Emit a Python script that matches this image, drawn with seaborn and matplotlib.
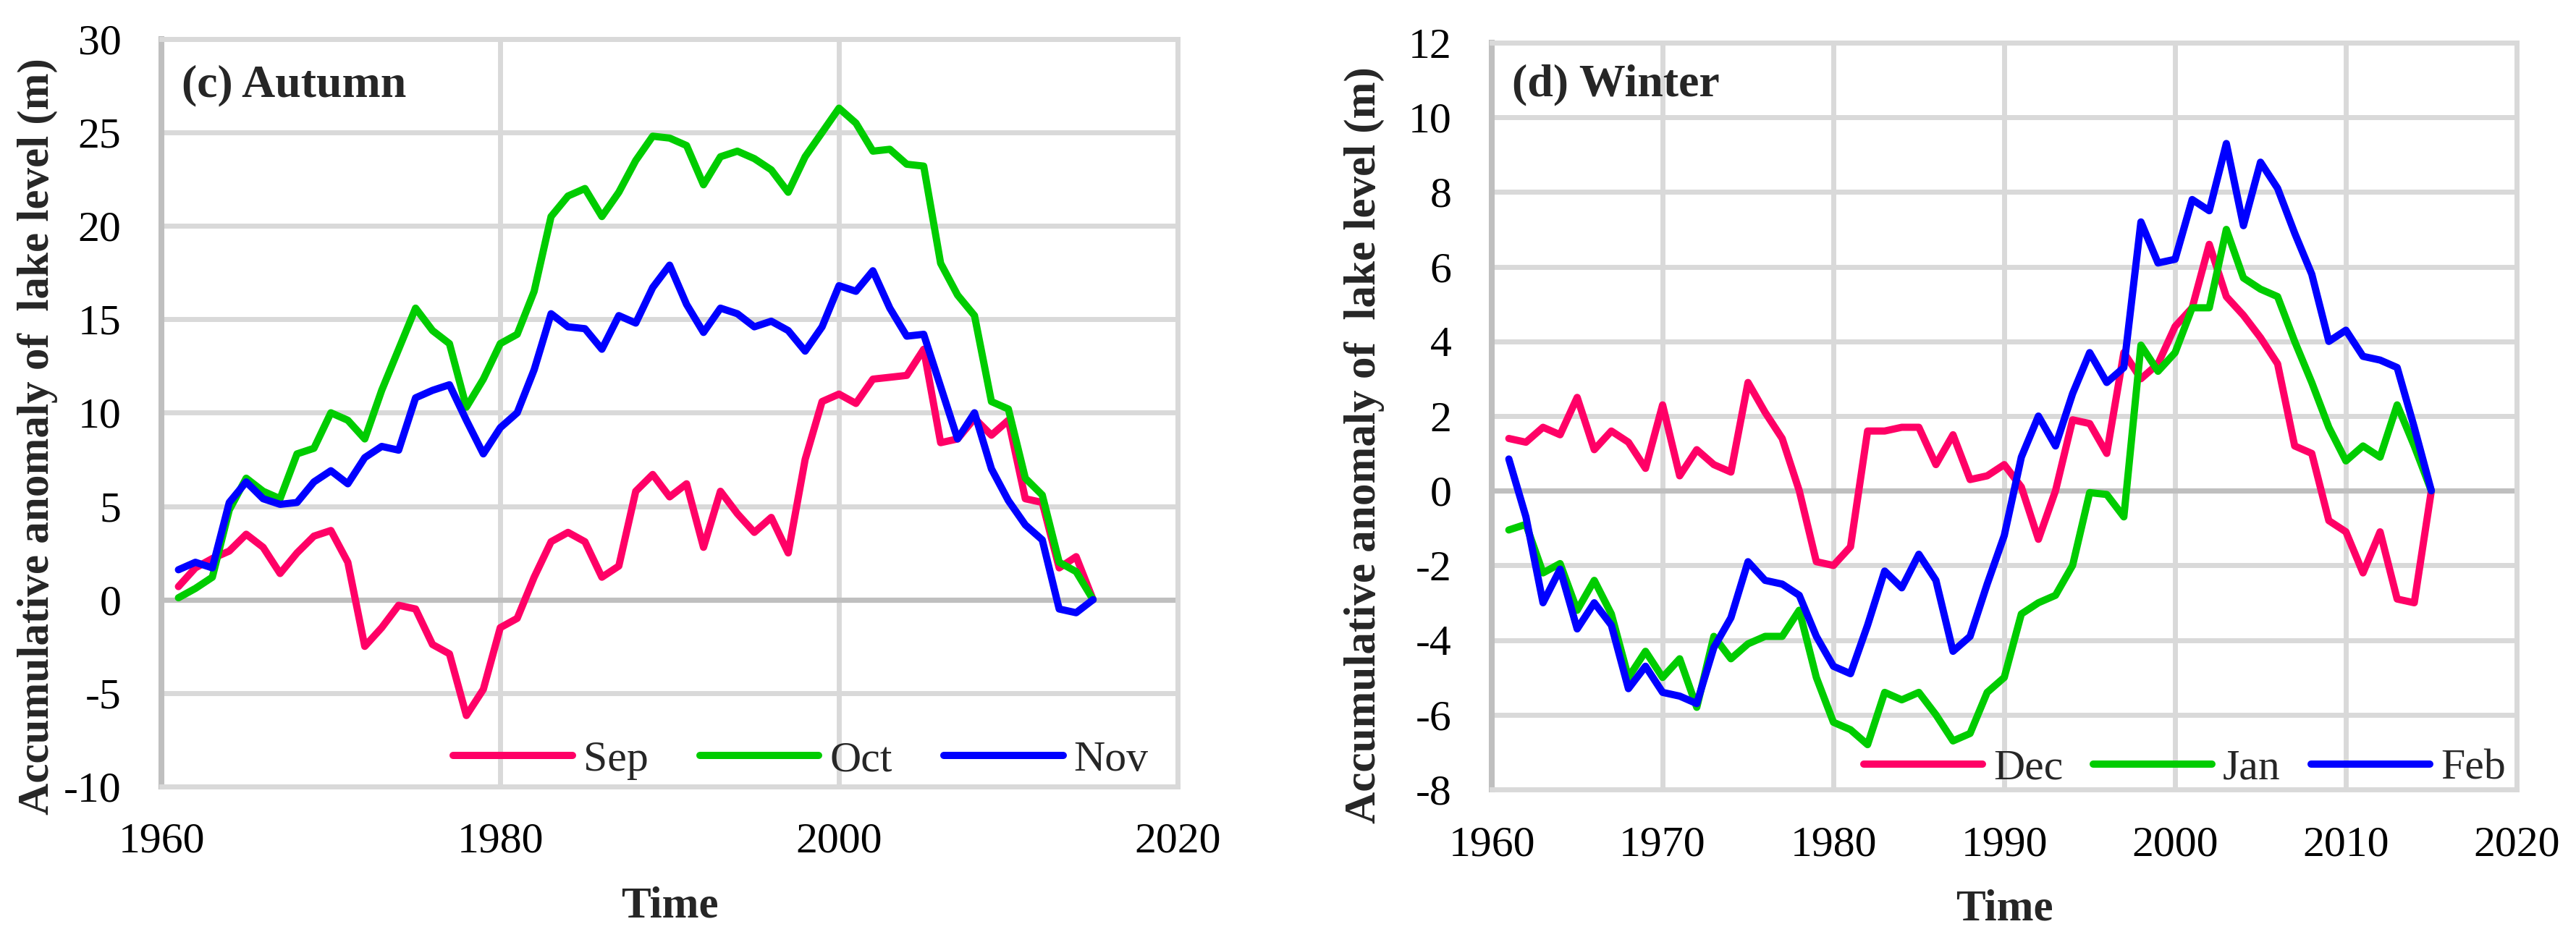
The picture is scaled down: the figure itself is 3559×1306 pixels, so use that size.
"""Accumulative anomaly of lake level, autumn and winter months"""
import numpy as np
import pandas as pd
import matplotlib
matplotlib.use('Agg')
import matplotlib.pyplot as plt
import seaborn as sns

years = list(range(1961, 2016))

# (c) Autumn
sep = [0.7, 1.7, 2.2, 2.6, 3.5, 2.8, 1.4, 2.5, 3.4, 3.7,
       2.0, -2.5, -1.5, -0.3, -0.5, -2.4, -2.9, -6.2, -4.8, -1.5,
       -1.0, 1.2, 3.1, 3.6, 3.1, 1.2, 1.8, 5.8, 6.7, 5.5,
       6.2, 2.8, 5.8, 4.6, 3.6, 4.4, 2.5, 7.5, 10.6, 11.0,
       10.5, 11.8, 11.9, 12.0, 13.4, 8.4, 8.6, 9.7, 8.8, 9.6,
       5.4, 5.2, 1.7, 2.3, 0.0]
oct_ = [0.1, 0.6, 1.2, 4.8, 6.5, 5.8, 5.4, 7.8, 8.1, 10.0,
        9.6, 8.6, 11.2, 13.4, 15.6, 14.4, 13.7, 10.3, 11.8, 13.7,
        14.2, 16.5, 20.5, 21.6, 22.0, 20.5, 21.8, 23.5, 24.8, 24.7,
        24.3, 22.2, 23.7, 24.0, 23.6, 23.0, 21.8, 23.7, 25.0, 26.3,
        25.5, 24.0, 24.1, 23.3, 23.2, 18.0, 16.3, 15.2, 10.6, 10.2,
        6.5, 5.6, 2.0, 1.5, 0.0]
nov = [1.6, 2.0, 1.7, 5.2, 6.3, 5.4, 5.1, 5.2, 6.3, 6.9,
       6.2, 7.6, 8.2, 8.0, 10.8, 11.2, 11.5, 9.6, 7.8, 9.2,
       10.0, 12.3, 15.3, 14.6, 14.5, 13.4, 15.2, 14.8, 16.7, 17.9,
       15.8, 14.3, 15.6, 15.3, 14.6, 14.9, 14.4, 13.3, 14.6, 16.8,
       16.5, 17.6, 15.6, 14.1, 14.2, 11.4, 8.6, 10.0, 7.0, 5.3,
       4.0, 3.2, -0.5, -0.7, 0.0]

# (d) Winter
dec = [1.4, 1.3, 1.7, 1.5, 2.5, 1.1, 1.6, 1.3, 0.6, 2.3,
       0.4, 1.1, 0.7, 0.5, 2.9, 2.1, 1.4, 0.0, -1.9, -2.0,
       -1.5, 1.6, 1.6, 1.7, 1.7, 0.7, 1.5, 0.3, 0.4, 0.7,
       0.1, -1.3, 0.0, 1.9, 1.8, 1.0, 3.7, 3.0, 3.4, 4.4,
       4.9, 6.6, 5.2, 4.7, 4.1, 3.4, 1.2, 1.0, -0.8, -1.1,
       -2.2, -1.1, -2.9, -3.0, 0.0]
jan = [-1.05, -0.9, -2.2, -1.95, -3.2, -2.4, -3.3, -5.0, -4.3, -5.0,
       -4.5, -5.8, -3.9, -4.5, -4.1, -3.9, -3.9, -3.2, -5.0, -6.2,
       -6.4, -6.8, -5.4, -5.6, -5.4, -6.0, -6.7, -6.5, -5.4, -5.0,
       -3.3, -3.0, -2.8, -2.0, -0.05, -0.1, -0.7, 3.9, 3.2, 3.7,
       4.9, 4.9, 7.0, 5.7, 5.4, 5.2, 4.0, 2.9, 1.7, 0.8,
       1.2, 0.9, 2.3, 1.2, 0.0]
feb = [0.85, -0.7, -3.0, -2.1, -3.7, -3.0, -3.6, -5.3, -4.7, -5.4,
       -5.5, -5.7, -4.2, -3.4, -1.9, -2.4, -2.5, -2.8, -3.9, -4.7,
       -4.9, -3.6, -2.15, -2.6, -1.7, -2.4, -4.3, -3.9, -2.5, -1.2,
       0.9, 2.0, 1.2, 2.6, 3.7, 2.9, 3.3, 7.2, 6.1, 6.2,
       7.8, 7.5, 9.3, 7.1, 8.8, 8.1, 6.9, 5.8, 4.0, 4.3,
       3.6, 3.5, 3.3, 1.7, 0.0]

autumn_months = ['Sep', 'Oct', 'Nov']
winter_months = ['Dec', 'Jan', 'Feb']
colors = ['#FF0066', '#00CC00', '#0000FF']


def long_table(months, series):
    frames = [pd.DataFrame({'Year': years, 'Anomaly': s, 'Month': m})
              for m, s in zip(months, series)]
    return pd.concat(frames, ignore_index=True)


df_aut = long_table(autumn_months, [sep, oct_, nov])
df_win = long_table(winter_months, [dec, jan, feb])

sns.set_theme(style='white')
plt.rcParams['font.family'] = ['Liberation Serif', 'DejaVu Serif']
plt.rcParams['axes.unicode_minus'] = False

FS = 21.5
GRID = '#d9d9d9'
AXIS = '#bfbfbf'

fig = plt.figure(figsize=(17.795, 6.53), dpi=200)
ax1 = fig.add_axes([0.0627, 0.1677, 0.3945, 0.7910])
ax2 = fig.add_axes([0.5791, 0.1646, 0.3979, 0.7902])

panels = [
    (ax1, df_aut, autumn_months, '(c) Autumn', (-10, 30), 5, 20,
     (0.971, 0.035), 1.2, 0.938, -0.1218, 0.468),
    (ax2, df_win, winter_months, '(d) Winter', (-8, 12), 2, 10,
     (0.989, 0.028), 0.7, 0.943, -0.1243, 0.461),
]

for (ax, df, months, title, ylim, ystep, xstep,
     leg_pos, colsp, title_y, ylab_x, ylab_y) in panels:
    sns.lineplot(data=df, x='Year', y='Anomaly', hue='Month',
                 hue_order=months, palette=dict(zip(months, colors)),
                 linewidth=3.6, ax=ax, zorder=3, legend=True,
                 solid_joinstyle='round', solid_capstyle='round')

    ax.set_xlim(1960, 2020)
    ax.set_ylim(*ylim)
    ax.set_xticks(np.arange(1960, 2021, xstep))
    ax.set_yticks(np.arange(ylim[0], ylim[1] + 1, ystep))
    ax.tick_params(axis='both', length=0, labelsize=FS, colors='black')
    ax.tick_params(axis='x', pad=18)
    ax.tick_params(axis='y', pad=20)

    ax.grid(True, color=GRID, linewidth=2.5, zorder=0)
    ax.set_axisbelow(True)
    ax.axhline(0, color=AXIS, linewidth=2.6, zorder=1.5)

    for side in ['top', 'right', 'bottom']:
        ax.spines[side].set_color(GRID)
        ax.spines[side].set_linewidth(2.5)
    ax.spines['left'].set_color(AXIS)
    ax.spines['left'].set_linewidth(2.9)

    ax.set_xlabel('Time', fontsize=FS + 0.5, fontweight='bold')
    ax.xaxis.set_label_coords(0.5, -0.1607)
    ax.xaxis.label.set_va('center')
    ax.set_ylabel('Accumulative anomaly of  lake level (m)',
                  fontsize=FS + 0.5, fontweight='bold')
    ax.yaxis.set_label_coords(ylab_x, ylab_y)
    ax.yaxis.label.set_va('center')

    ax.text(0.02, title_y, title, transform=ax.transAxes,
            fontsize=FS + 1.5, fontweight='bold', va='center', ha='left')

    handles, labels = ax.get_legend_handles_labels()
    ax.legend(handles, labels, loc='center right', bbox_to_anchor=leg_pos,
              ncol=3, frameon=False, fontsize=FS, handlelength=2.75,
              handletextpad=0.25, columnspacing=colsp, borderpad=0,
              borderaxespad=0)

fig.savefig('out.png', dpi=200)
plt.close(fig)
